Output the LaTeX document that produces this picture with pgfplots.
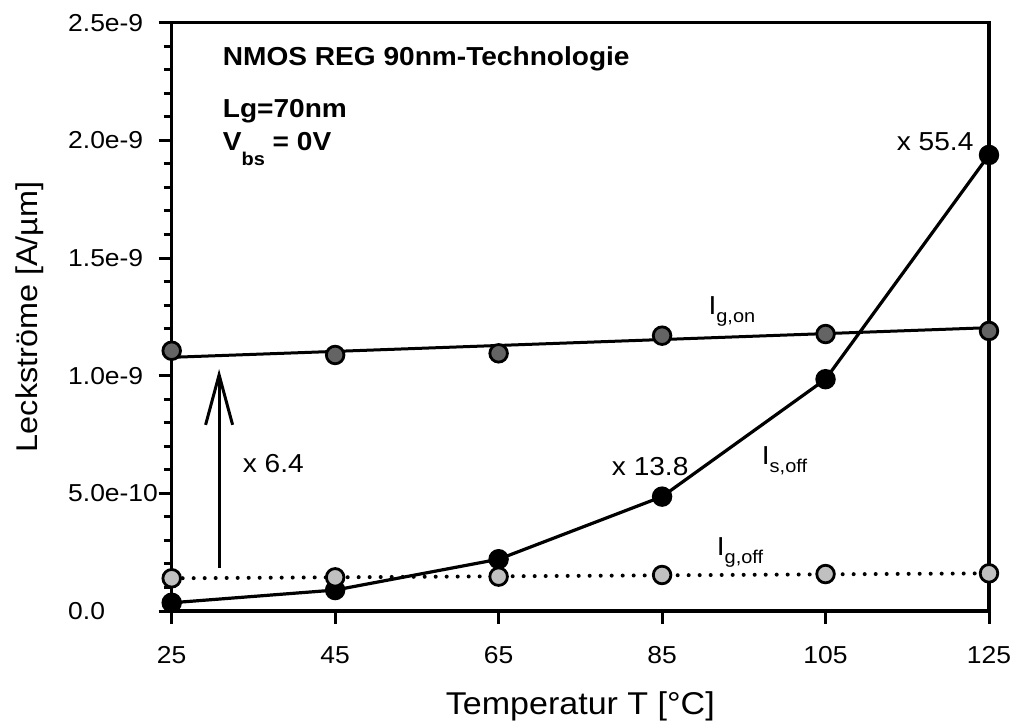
\documentclass[border=0pt]{standalone}
\usepackage{fontspec}
\setmainfont{Liberation Sans}[FakeStretch=1.08]
\usepackage{pgfplots}
\pgfplotsset{compat=1.18}
\usetikzlibrary{arrows.meta}
\definecolor{darkg}{RGB}{100,100,100}
\definecolor{lightg}{RGB}{192,192,192}
\tikzset{
  ytl/.style={anchor=west, inner sep=0pt, xshift=-103.7pt, font=\fontsize{24.5}{28}\selectfont},
  xtl/.style={anchor=base, inner sep=0pt, yshift=-52.3pt, font=\fontsize{24.5}{28}\selectfont},
}
\begin{document}
\begin{tikzpicture}
\begin{axis}[
  scale only axis, width=817.3pt, height=588.3pt,
  xmin=25, xmax=125, ymin=0, ymax=2.5e-9,
  clip=false,
  axis line style={line width=3.5pt},
  tick pos=left, tick align=outside,
  major tick length=13pt, minor tick length=8pt,
  tick style={black, line width=3pt},
  xtick={25,45,65,85,105,125},
  xticklabels={},
  ytick={0,5e-10,1e-9,1.5e-9,2e-9,2.5e-9},
  yticklabels={},
  minor y tick num=4,
  scaled y ticks=false,
  xlabel={Temperatur T [°C]},
  ylabel={Leckströme [A/µm]},
  every axis x label/.style={at={(axis description cs:0.5,-0.1756)}, anchor=base, inner sep=0pt, font=\fontsize{31.5}{36}\selectfont},
  every axis y label/.style={at={(axis description cs:-0.1648,0.5)}, rotate=90, anchor=base, inner sep=0pt, font=\fontsize{30}{36}\selectfont},
]
% I_g,on fit line and points
\addplot[black, line width=3pt, mark=none] coordinates {(25,1.078e-9) (125,1.204e-9)};
\addplot[draw=none, mark=*, mark size=8.8pt, mark options={fill=darkg, draw=black, line width=2.8pt}] coordinates {
  (25,1.106e-9) (45,1.088e-9) (65,1.095e-9) (85,1.170e-9) (105,1.177e-9) (125,1.190e-9)};
% I_g,off fit line (dotted)
\addplot[black, line width=4pt, line cap=round, dash pattern=on 0pt off 11pt, mark=none] coordinates {(25,0.139e-9) (125,0.160e-9)};
% I_s,off
\addplot[black, line width=3.2pt, mark=*, mark size=8.8pt, mark options={fill=black, draw=black, line width=2.8pt, solid}] coordinates {
  (25,0.035e-9) (45,0.089e-9) (65,0.220e-9) (85,0.486e-9) (105,0.985e-9) (125,1.938e-9)};
% I_g,off points
\addplot[draw=none, mark=*, mark size=8.8pt, mark options={fill=lightg, draw=black, line width=2.8pt}] coordinates {
  (25,0.139e-9) (45,0.143e-9) (65,0.146e-9) (85,0.153e-9) (105,0.157e-9) (125,0.160e-9)};
% tick labels
\node[ytl] at (axis cs:25,0) {0.0};
\node[ytl] at (axis cs:25,5e-10) {5.0e-10};
\node[ytl] at (axis cs:25,1e-9) {1.0e-9};
\node[ytl] at (axis cs:25,1.5e-9) {1.5e-9};
\node[ytl] at (axis cs:25,2e-9) {2.0e-9};
\node[ytl] at (axis cs:25,2.5e-9) {2.5e-9};
\node[xtl] at (axis cs:25,0) {25};
\node[xtl] at (axis cs:45,0) {45};
\node[xtl] at (axis cs:65,0) {65};
\node[xtl] at (axis cs:85,0) {85};
\node[xtl] at (axis cs:105,0) {105};
\node[xtl] at (axis cs:125,0) {125};
% arrow
\draw[black, line width=3pt, -{Straight Barb[length=50pt, width=27pt, line width=3pt]}] (axis cs:30.8,0.183e-9) -- (axis cs:30.8,1.028e-9);
% annotations
\node[anchor=base west, inner sep=0pt, font=\fontsize{26}{30}\selectfont] at (axis cs:33.69,0.588e-9) {x 6.4};
\node[anchor=base west, inner sep=0pt, font=\fontsize{26}{30}\selectfont] at (axis cs:78.84,0.574e-9) {x 13.8};
\node[anchor=base west, inner sep=0pt, font=\fontsize{26}{30}\selectfont] at (axis cs:113.71,1.959e-9) {x 55.4};
\node[anchor=base west, inner sep=0pt, font=\fontsize{26}{30}\selectfont] at (axis cs:90.66,1.261e-9) {I\raisebox{-8pt}{\fontsize{18.5}{20}\selectfont g,on}};
\node[anchor=base west, inner sep=0pt, font=\fontsize{26}{30}\selectfont] at (axis cs:97.19,0.623e-9) {I\raisebox{-8pt}{\fontsize{18.5}{20}\selectfont s,off}};
\node[anchor=base west, inner sep=0pt, font=\fontsize{26}{30}\selectfont] at (axis cs:91.68,0.234e-9) {I\raisebox{-8pt}{\fontsize{18.5}{20}\selectfont g,off}};
\node[anchor=base west, inner sep=0pt, font=\fontsize{26}{30}\selectfont\bfseries] at (axis cs:31.24,2.316e-9) {NMOS REG 90nm-Technologie};
\node[anchor=base west, inner sep=0pt, font=\fontsize{26}{30}\selectfont\bfseries] at (axis cs:31.24,2.098e-9) {Lg=70nm};
\node[anchor=base west, inner sep=0pt, font=\fontsize{26}{30}\selectfont\bfseries] at (axis cs:31.24,1.959e-9) {V\raisebox{-15pt}{\fontsize{18.5}{20}\selectfont\bfseries bs} = 0V};
\end{axis}
\pgfresetboundingbox
\path[use as bounding box] (-171.7pt,-115pt) rectangle (843.3pt,611pt);
\end{tikzpicture}
\end{document}
